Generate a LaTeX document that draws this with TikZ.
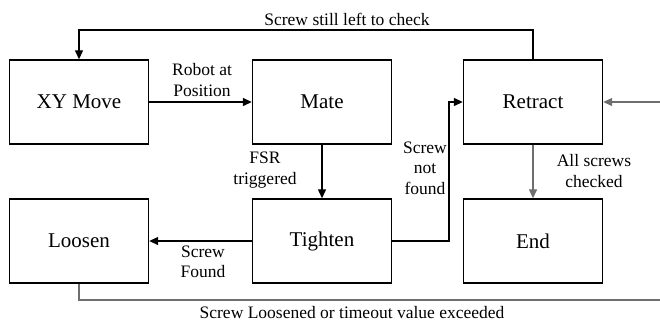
\documentclass[tikz,border=0pt]{standalone}
\usepackage{fontspec}
\setmainfont{Liberation Serif}
\usetikzlibrary{arrows.meta}
\definecolor{linegray}{HTML}{6E6E6E}
\tikzset{
  state/.style={draw=black, line width=1.4pt, minimum width=139pt, minimum height=84pt,
    inner sep=0pt, font=\fontsize{21}{24}\selectfont},
  flow/.style={draw=black, line width=1.3pt, -{Triangle[length=9pt,width=8pt]}},
  grayflow/.style={draw=linegray, line width=1.3pt, -{Triangle[length=9pt,width=8pt]}},
  grayline/.style={draw=linegray, line width=1.3pt},
  cond/.style={font=\fontsize{17.5}{20.5}\selectfont, align=center, inner sep=0pt}
}
\begin{document}
\begin{tikzpicture}[x=1pt,y=-1pt]
  \useasboundingbox (0,0) rectangle (660,324);

  % states
  \node[state] (xy)      at (79,102)  {XY Move};
  \node[state] (mate)    at (322,102) {Mate};
  \node[state] (retract) at (533,102) {Retract};
  \node[state] (loosen)  at (79,241)  {Loosen};
  \node[state] (tighten) at (322,241) {Tighten};
  \node[state] (end)     at (533,241) {End};

  % free ends at the right margin
  \coordinate (inR) at (660,102);
  \coordinate (outR) at (660,300);

  % transitions
  \draw[flow] (xy) -- (mate);
  \draw[flow] (mate) -- (tighten);
  \draw[flow] (tighten) -- (loosen);
  \draw[flow] (tighten.east) -- (449,241) -- (449,102) -- (retract.west);
  \draw[flow] (retract.north) -- (533,30) -- (79,30) -- (xy.north);
  \draw[grayflow] (retract) -- (end);
  \draw[grayflow] (inR) -- (retract.east);
  \draw[grayline] (loosen.south) -- (79,300) -- (outR);

  % transition labels
  \node[cond] (lpos)   at (202,80)  {Robot at\\Position};
  \node[cond] (lfsr)   at (265,170) {FSR\\triggered};
  \node[cond] (lnf)    at (425,168) {Screw\\not\\found};
  \node[cond] (lall)   at (594,171) {All screws\\checked};
  \node[cond] (lfound) at (203,262) {Screw\\Found};
  \node[cond] (lleft)  at (347,19)  {Screw still left to check};
  \node[cond] (lloose) at (352,313) {Screw Loosened or timeout value exceeded};
\end{tikzpicture}
\end{document}
